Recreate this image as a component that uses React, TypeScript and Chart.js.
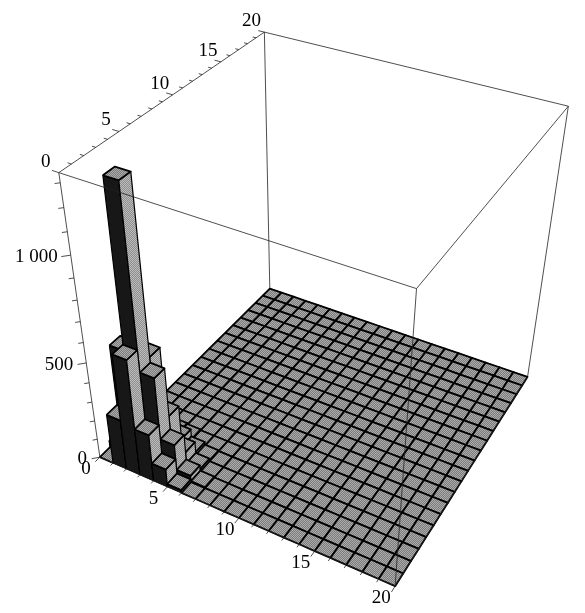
import React, { useEffect, useRef } from "react";
import { Chart, registerables } from "chart.js";

Chart.register(...registerables);

// ---------------- data ----------------
const X_EDGES = [0, 1, 2, 3, 4, 5, 6, 7, 8, 9, 10, 11, 12, 13, 14, 15, 16, 17, 18, 19, 20];
const Y_EDGES = [0, 1, 2, 3, 4, 5, 6, 7, 8, 9, 10, 11, 12, 13, 14, 15, 16, 17, 18, 19, 20];
const Z_RANGE = [0, 1340];

const X_TICKS = [0, 5, 10, 15, 20];
const Y_TICKS = [0, 5, 10, 15, 20];
const Z_TICKS = [0, 500, 1000];
const Z_TICK_LABELS = ["0", "500", "1 000"];
const Z_MINOR_TICKS = [0, 100, 200, 300, 400, 500, 600, 700, 800, 900, 1000, 1100, 1200, 1300];

// counts per x-bin (0..19), one array per y-bin
const COUNTS_Y0 = [0, 263, 597, 247, 95, 15, 0, 0, 0, 0, 0, 0, 0, 0, 0, 0, 0, 0, 0, 0];
const COUNTS_Y1 = [35, 566, 1335, 487, 170, 35, 5, 0, 0, 0, 0, 0, 0, 0, 0, 0, 0, 0, 0, 0];
const COUNTS_Y2 = [15, 230, 515, 240, 75, 15, 0, 0, 0, 0, 0, 0, 0, 0, 0, 0, 0, 0, 0, 0];
const COUNTS_Y3 = [0, 35, 85, 60, 20, 5, 0, 0, 0, 0, 0, 0, 0, 0, 0, 0, 0, 0, 0, 0];
const COUNTS_Y4 = [0, 0, 10, 5, 0, 0, 0, 0, 0, 0, 0, 0, 0, 0, 0, 0, 0, 0, 0, 0];
const COUNTS_Y5 = [0, 0, 0, 0, 0, 0, 0, 0, 0, 0, 0, 0, 0, 0, 0, 0, 0, 0, 0, 0];
const COUNTS_Y6 = [0, 0, 0, 0, 0, 0, 0, 0, 0, 0, 0, 0, 0, 0, 0, 0, 0, 0, 0, 0];
const COUNTS_Y7 = [0, 0, 0, 0, 0, 0, 0, 0, 0, 0, 0, 0, 0, 0, 0, 0, 0, 0, 0, 0];
const COUNTS_Y8 = [0, 0, 0, 0, 0, 0, 0, 0, 0, 0, 0, 0, 0, 0, 0, 0, 0, 0, 0, 0];
const COUNTS_Y9 = [0, 0, 0, 0, 0, 0, 0, 0, 0, 0, 0, 0, 0, 0, 0, 0, 0, 0, 0, 0];
const COUNTS_Y10 = [0, 0, 0, 0, 0, 0, 0, 0, 0, 0, 0, 0, 0, 0, 0, 0, 0, 0, 0, 0];
const COUNTS_Y11 = [0, 0, 0, 0, 0, 0, 0, 0, 0, 0, 0, 0, 0, 0, 0, 0, 0, 0, 0, 0];
const COUNTS_Y12 = [0, 0, 0, 0, 0, 0, 0, 0, 0, 0, 0, 0, 0, 0, 0, 0, 0, 0, 0, 0];
const COUNTS_Y13 = [0, 0, 0, 0, 0, 0, 0, 0, 0, 0, 0, 0, 0, 0, 0, 0, 0, 0, 0, 0];
const COUNTS_Y14 = [0, 0, 0, 0, 0, 0, 0, 0, 0, 0, 0, 0, 0, 0, 0, 0, 0, 0, 0, 0];
const COUNTS_Y15 = [0, 0, 0, 0, 0, 0, 0, 0, 0, 0, 0, 0, 0, 0, 0, 0, 0, 0, 0, 0];
const COUNTS_Y16 = [0, 0, 0, 0, 0, 0, 0, 0, 0, 0, 0, 0, 0, 0, 0, 0, 0, 0, 0, 0];
const COUNTS_Y17 = [0, 0, 0, 0, 0, 0, 0, 0, 0, 0, 0, 0, 0, 0, 0, 0, 0, 0, 0, 0];
const COUNTS_Y18 = [0, 0, 0, 0, 0, 0, 0, 0, 0, 0, 0, 0, 0, 0, 0, 0, 0, 0, 0, 0];
const COUNTS_Y19 = [0, 0, 0, 0, 0, 0, 0, 0, 0, 0, 0, 0, 0, 0, 0, 0, 0, 0, 0, 0];

const COUNTS = [
  COUNTS_Y0, COUNTS_Y1, COUNTS_Y2, COUNTS_Y3, COUNTS_Y4, COUNTS_Y5, COUNTS_Y6,
  COUNTS_Y7, COUNTS_Y8, COUNTS_Y9, COUNTS_Y10, COUNTS_Y11, COUNTS_Y12, COUNTS_Y13,
  COUNTS_Y14, COUNTS_Y15, COUNTS_Y16, COUNTS_Y17, COUNTS_Y18, COUNTS_Y19,
];

// ---------------- view (camera) ----------------
const VIEW_POINT = [1.3, -2.4, 2];
const VIEW_ROLL_DEG = 0.79;
const VIEW_WINDOW_X = [-0.2812, 0.2251];
const VIEW_WINDOW_Y = [-0.2807, 0.2497];

const W = 585;
const H = 613;

const FONT = '19px "Liberation Serif", "Times New Roman", serif';

function makeProjector() {
  const [vx, vy, vz] = VIEW_POINT;
  const D = Math.hypot(vx, vy, vz);
  const phi = Math.atan2(vy, vx);
  const th = Math.atan2(vz, Math.hypot(vx, vy));
  const w = [Math.cos(th) * Math.cos(phi), Math.cos(th) * Math.sin(phi), Math.sin(th)];
  const u = [-Math.sin(phi), Math.cos(phi), 0];
  const v = [-Math.sin(th) * Math.cos(phi), -Math.sin(th) * Math.sin(phi), Math.cos(th)];
  const roll = (VIEW_ROLL_DEG * Math.PI) / 180;
  const ca = Math.cos(roll);
  const sa = Math.sin(roll);
  const x0 = X_EDGES[0], x1 = X_EDGES[X_EDGES.length - 1];
  const y0 = Y_EDGES[0], y1 = Y_EDGES[Y_EDGES.length - 1];
  const z0 = Z_RANGE[0], z1 = Z_RANGE[1];
  return (X: number, Y: number, Z: number) => {
    const p = [(X - x0) / (x1 - x0) - 0.5, (Y - y0) / (y1 - y0) - 0.5, (Z - z0) / (z1 - z0) - 0.5];
    const s = D - (p[0] * w[0] + p[1] * w[1] + p[2] * w[2]);
    const mx = (p[0] * u[0] + p[1] * u[1] + p[2] * u[2]) / s;
    const my = (p[0] * v[0] + p[1] * v[1] + p[2] * v[2]) / s;
    return { x: ca * mx + sa * my, y: ca * my - sa * mx };
  };
}

function makePattern(ctx: CanvasRenderingContext2D, a: string, b: string) {
  const c = document.createElement("canvas");
  c.width = 2;
  c.height = 2;
  const g = c.getContext("2d")!;
  g.fillStyle = a;
  g.fillRect(0, 0, 2, 2);
  g.fillStyle = b;
  g.fillRect(0, 0, 1, 1);
  g.fillRect(1, 1, 1, 1);
  return ctx.createPattern(c, "repeat");
}

export default function App() {
  const ref = useRef<HTMLCanvasElement | null>(null);

  useEffect(() => {
    const canvas = ref.current;
    if (!canvas) return;
    const ctx = canvas.getContext("2d")!;
    const project = makeProjector();

    const topFill = makePattern(ctx, "#7c7c7c", "#ababab");
    const sideLight = makePattern(ctx, "#8e8e8e", "#bcbcbc");
    const sideDark = "#171717";

    const polys: any[] = [];
    const poly = (pts: number[][], fill: any, bw: number, color = "#000") => {
      const data = pts.map((q) => project(q[0], q[1], q[2]));
      data.push(data[0]);
      polys.push({
        type: "line",
        data,
        showLine: true,
        fill: fill ? "shape" : false,
        backgroundColor: fill || "rgba(0,0,0,0)",
        borderColor: color,
        borderWidth: bw,
        borderJoinStyle: "round",
        pointRadius: 0,
        pointHoverRadius: 0,
        tension: 0,
      });
    };
    const seg = (a: number[], b: number[], bw: number, color = "#222") => {
      polys.push({
        type: "line",
        data: [project(a[0], a[1], a[2]), project(b[0], b[1], b[2])],
        showLine: true,
        fill: false,
        borderColor: color,
        borderWidth: bw,
        pointRadius: 0,
        pointHoverRadius: 0,
        tension: 0,
      });
    };

    const xa = X_EDGES[0], xb = X_EDGES[X_EDGES.length - 1];
    const ya = Y_EDGES[0], yb = Y_EDGES[Y_EDGES.length - 1];
    const za = Z_RANGE[0], zb = Z_RANGE[1];

    // back edges of box
    const boxW = 0.8;
    seg([xa, ya, zb], [xa, yb, zb], boxW);
    seg([xa, yb, zb], [xb, yb, zb], boxW);
    seg([xa, yb, za], [xa, yb, zb], boxW);
    seg([xa, ya, za], [xa, yb, za], boxW);
    seg([xa, yb, za], [xb, yb, za], boxW);
    seg([xa, ya, za], [xa, ya, zb], boxW);
    seg([xb, yb, za], [xb, yb, zb], boxW);

    // cells, painter's order: back rows first, then far-left to near-right
    for (let j = COUNTS.length - 1; j >= 0; j--) {
      const row = COUNTS[j];
      for (let i = 0; i < row.length; i++) {
        const h = row[i];
        const x0 = X_EDGES[i], x1 = X_EDGES[i + 1];
        const y0 = Y_EDGES[j], y1 = Y_EDGES[j + 1];
        if (h > 0) {
          poly([[x0, y0, 0], [x1, y0, 0], [x1, y0, h], [x0, y0, h]], sideDark, 1.2);
          poly([[x1, y0, 0], [x1, y1, 0], [x1, y1, h], [x1, y0, h]], sideLight, 1.2);
        }
        poly([[x0, y0, h], [x1, y0, h], [x1, y1, h], [x0, y1, h]], topFill, 1.8);
      }
    }

    // front edges of box
    seg([xa, ya, zb], [xb, ya, zb], boxW);
    seg([xb, ya, zb], [xb, yb, zb], boxW);
    seg([xb, ya, za], [xb, ya, zb], boxW);
    seg([xa, ya, za], [xb, ya, za], boxW);
    seg([xb, ya, za], [xb, yb, za], boxW);

    // tick marks
    X_EDGES.forEach((v) => {
      const len = X_TICKS.includes(v) ? 0.45 : 0.25;
      seg([v, ya, za], [v, ya - len, za], 0.8);
    });
    Y_EDGES.forEach((v) => {
      const len = Y_TICKS.includes(v) ? 0.45 : 0.25;
      seg([xa, v, zb], [xa - len, v, zb], 0.8);
    });
    Z_MINOR_TICKS.forEach((v) => {
      const len = Z_TICKS.includes(v) ? 0.35 : 0.2;
      seg([xa, ya, v], [xa - len, ya - len, v], 0.8);
    });

    // chart.js paints dataset 0 last -> reverse so the first pushed is painted first
    const datasets = polys.slice().reverse();

    const labelPlugin = {
      id: "axisLabels3d",
      afterDraw(chart: any) {
        const c = chart.ctx;
        const sx = chart.scales.x;
        const sy = chart.scales.y;
        c.save();
        c.font = FONT;
        c.fillStyle = "#000";
        c.textBaseline = "middle";
        const put = (X: number, Y: number, Z: number, text: string, dx: number, dy: number, align: string) => {
          const p = project(X, Y, Z);
          c.textAlign = align;
          c.fillText(text, sx.getPixelForValue(p.x) + dx, sy.getPixelForValue(p.y) + dy);
        };
        X_TICKS.forEach((v) => put(v, ya, za, String(v), -14, 12, "center"));
        Y_TICKS.forEach((v) => put(xa, v, zb, String(v), -13, -11, "center"));
        Z_TICKS.forEach((v, k) => put(xa, ya, v, Z_TICK_LABELS[k], -13, 2, "right"));
        c.restore();
      },
    };

    const chart = new Chart(canvas, {
      type: "scatter",
      data: { datasets },
      options: {
        animation: false,
        responsive: false,
        events: [],
        layout: { padding: 0 },
        plugins: {
          legend: { display: false },
          tooltip: { enabled: false },
        },
        scales: {
          x: { type: "linear", min: VIEW_WINDOW_X[0], max: VIEW_WINDOW_X[1], display: false },
          y: { type: "linear", min: VIEW_WINDOW_Y[0], max: VIEW_WINDOW_Y[1], display: false },
        },
      },
      plugins: [labelPlugin],
    } as any);

    return () => chart.destroy();
  }, []);

  return (
    <div style={{ position: "absolute", left: 0, top: 0, width: W, height: H, background: "#fff" }}>
      <canvas ref={ref} width={W} height={H} style={{ display: "block", width: W, height: H }} />
    </div>
  );
}
